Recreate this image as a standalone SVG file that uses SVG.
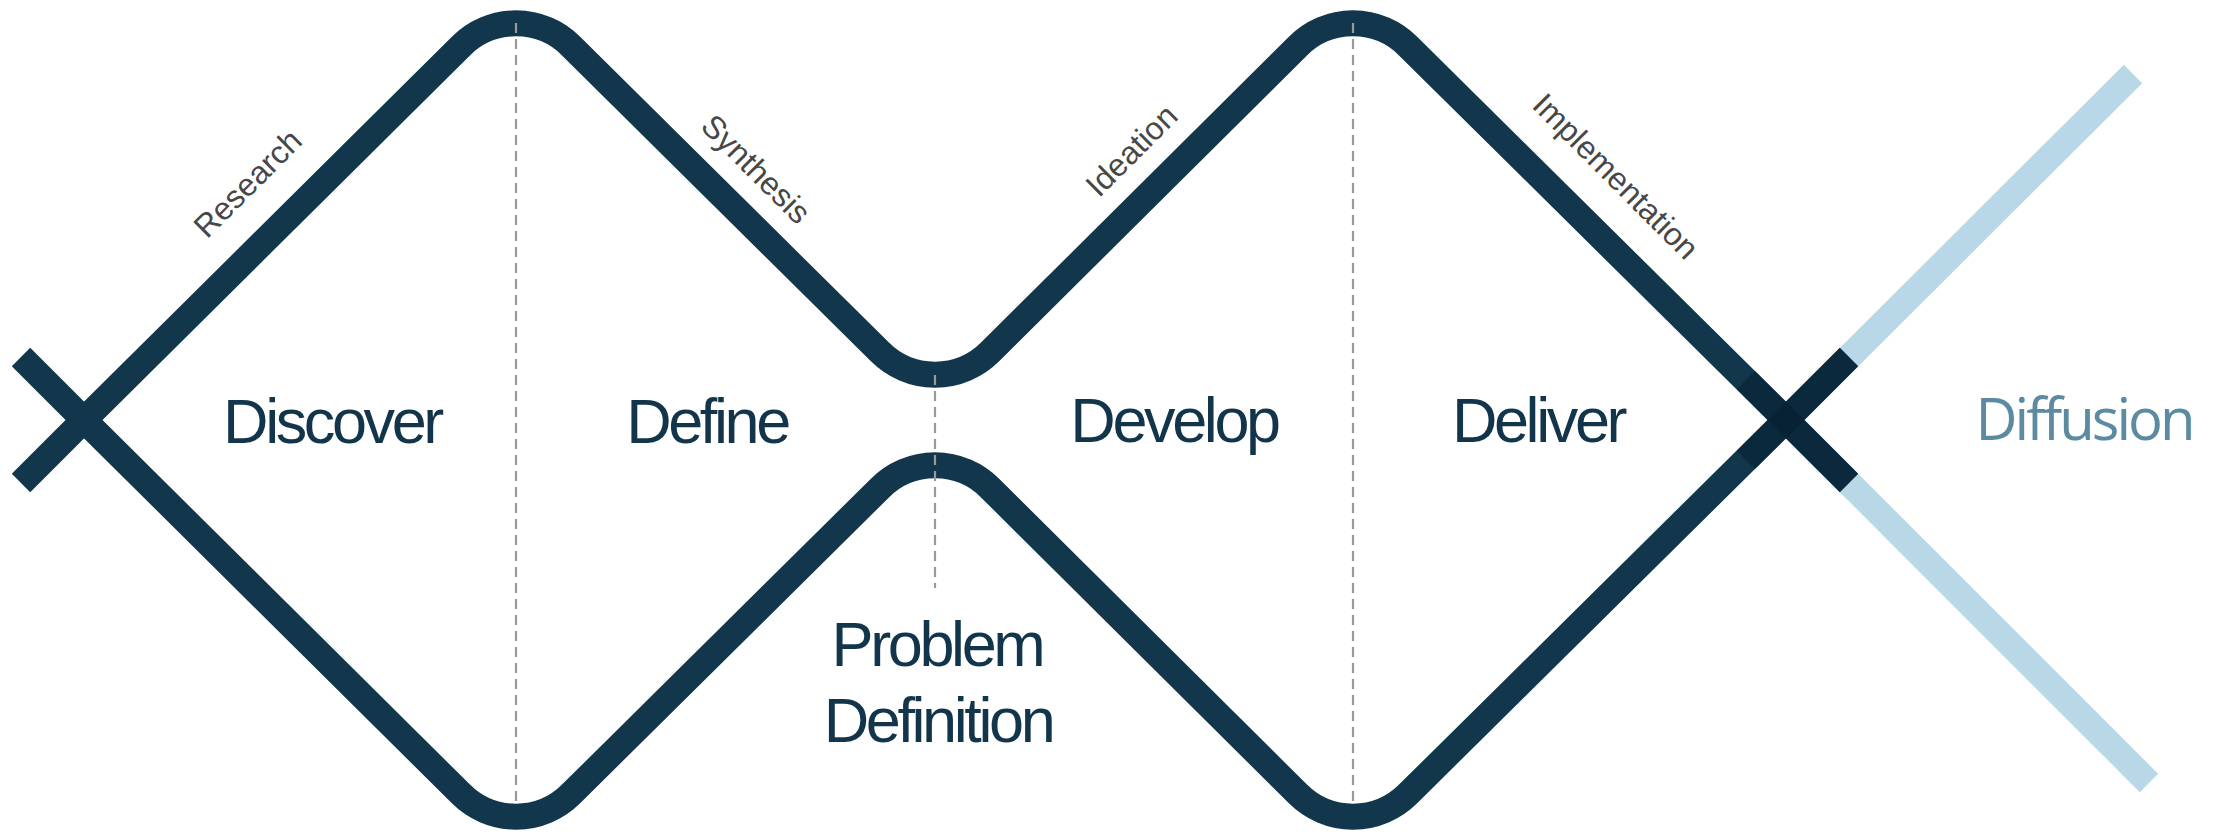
<svg xmlns="http://www.w3.org/2000/svg" width="2219" height="834" viewBox="0 0 2219 834">
<style>
.main{fill:none;stroke:#12364b;stroke-width:26;stroke-linecap:butt;stroke-linejoin:miter}
.light{fill:none;stroke:#b8d8e7;stroke-width:26;stroke-linecap:butt}
.over{fill:none;stroke:#051a2c;stroke-opacity:0.45;stroke-width:26;stroke-linecap:butt}
.dash{fill:none;stroke:#9a9a9a;stroke-width:2.2;stroke-dasharray:10 6}
.phase{font-family:"Liberation Sans",Arial,sans-serif;font-size:63px;fill:#12354b;letter-spacing:-3.4px;text-anchor:middle}
.act{font-family:"Liberation Sans",Arial,sans-serif;font-size:32px;fill:#474747;text-anchor:middle}
.diff{font-family:"Open Sans",sans-serif;font-size:58px;fill:#5b8aa1;letter-spacing:-3px;text-anchor:middle}
</style>
<rect width="2219" height="834" fill="#ffffff"/>
<g id="connectors">
  <g id="diffusion-lines">
    <line class="light" x1="1786" y1="420" x2="2133" y2="74"/>
    <line class="light" x1="1786" y1="420" x2="2149" y2="783"/>
  </g>
  <path id="upper-path" class="main" d="M21,483 L84,420 L460.8,46.2 A78,78 0 0 1 571.2,46.2 L879.8,351.8 A78,78 0 0 0 990.2,351.8 L1297.8,46.2 A78,78 0 0 1 1408.2,46.2 L1786,420 L1849,483"/>
  <path id="lower-path" class="main" d="M21,357 L84,420 L460.8,793.8 A78,78 0 0 0 571.2,793.8 L879.8,488.2 A78,78 0 0 1 990.2,488.2 L1297.8,793.8 A78,78 0 0 0 1408.2,793.8 L1786,420 L1849,357"/>
  <g id="right-cross-overlay">
    <line class="over" x1="1746" y1="380" x2="1849" y2="483"/>
    <line class="over" x1="1746" y1="460" x2="1849" y2="357"/>
  </g>
  <g id="dividers">
    <line class="dash" x1="516" y1="23" x2="516" y2="806"/>
    <line class="dash" x1="935" y1="375" x2="935" y2="588"/>
    <line class="dash" x1="1353" y1="23" x2="1353" y2="806"/>
  </g>
</g>
<g id="activity-labels">
  <text id="research" class="act" transform="translate(255.5,191.2) rotate(-45)">Research</text>
  <text id="synthesis" class="act" transform="translate(748.3,176.7) rotate(45)">Synthesis</text>
  <text id="ideation" class="act" transform="translate(1139.2,158.3) rotate(-45)">Ideation</text>
  <text id="implementation" class="act" transform="translate(1608,184) rotate(45)">Implementation</text>
</g>
<g id="node-discover"><text class="phase" x="332" y="443">Discover</text></g>
<g id="node-define"><text class="phase" x="707" y="443">Define</text></g>
<g id="node-develop"><text class="phase" x="1174" y="442">Develop</text></g>
<g id="node-deliver"><text class="phase" x="1538" y="442">Deliver</text></g>
<g id="node-problem-definition">
  <text class="phase" x="937" y="666">Problem</text>
  <text class="phase" x="938" y="742">Definition</text>
</g>
<g id="node-diffusion"><text class="diff" x="2084" y="440">Diffusion</text></g>
</svg>
